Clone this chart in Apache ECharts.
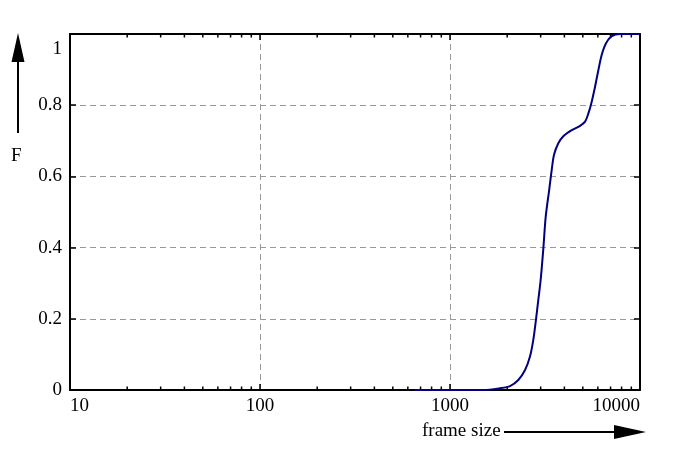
<!DOCTYPE html>
<html>
<head>
<meta charset="utf-8">
<script src="https://cdn.jsdelivr.net/npm/echarts@6/dist/echarts.min.js"></script>
<style>
  html, body { margin: 0; padding: 0; background: #fff; }
  #chart { width: 692px; height: 451px; }
</style>
</head>
<body>
<div id="chart"></div>
<script>
// cumulative distribution of frame sizes
const frameSize = [650, 1000, 1500, 1834, 2070, 2288, 2483, 2636, 2743, 2835, 2916, 3000, 3100, 3190, 3334, 3430, 3525, 3715, 3948, 4373, 4835, 5140, 5350, 5570, 5800, 6040, 6285, 6625, 7100, 7850, 10000];
const cdf = [0, 0, 0, 0.005, 0.011, 0.028, 0.056, 0.094, 0.14, 0.198, 0.253, 0.309, 0.398, 0.487, 0.566, 0.618, 0.660, 0.693, 0.713, 0.730, 0.742, 0.754, 0.777, 0.810, 0.852, 0.899, 0.941, 0.974, 0.994, 1, 1];

// minor ticks of the log axis
const minorTicks = [20, 30, 40, 50, 60, 70, 80, 90, 200, 300, 400, 500, 600, 700, 800, 900,
  2000, 3000, 4000, 5000, 6000, 7000, 8000, 9000];

const FONT = 'Liberation Serif';
const chart = echarts.init(document.getElementById('chart'));

const frameAxis = {
  type: 'log',
  logBase: 10,
  min: 10,
  max: 10000,
  axisLine: { onZero: false, lineStyle: { color: '#000', width: 2 } },
  axisTick: { inside: true, length: 6, lineStyle: { color: '#000', width: 1.5 } },
  minorTick: { show: false }
};

const fAxis = {
  type: 'value',
  min: 0,
  max: 1,
  interval: 0.2,
  axisLine: { show: true, onZero: false, lineStyle: { color: '#000', width: 2 } },
  axisTick: { show: true, inside: true, length: 6, lineStyle: { color: '#000', width: 1.5 } }
};

const option = {
  animation: false,
  grid: { left: 70, right: 52, top: 34, bottom: 61, containLabel: false },
  xAxis: [
    Object.assign({}, frameAxis, {
      position: 'bottom',
      axisLabel: {
        color: '#000', fontFamily: FONT, fontSize: 19, margin: 7,
        alignMinLabel: 'left', alignMaxLabel: 'right',
        formatter: v => String(Math.round(v))
      },
      splitLine: { show: true, lineStyle: { color: '#999', type: [6, 4], width: 1 } }
    }),
    Object.assign({}, frameAxis, {
      position: 'top',
      axisLabel: { show: false },
      splitLine: { show: false }
    })
  ],
  yAxis: [
    Object.assign({}, fAxis, {
      position: 'left',
      axisLabel: {
        color: '#000', fontFamily: FONT, fontSize: 19, margin: 8,
        verticalAlignMaxLabel: 'top',
        formatter: v => v === 1 ? '{top|1}' : String(v),
        rich: { top: { fontFamily: FONT, fontSize: 19, padding: [6, 0, 0, 0] } }
      },
      splitLine: { show: true, lineStyle: { color: '#999', type: [6, 4], width: 1 } }
    }),
    Object.assign({}, fAxis, {
      position: 'right',
      axisLabel: { show: false },
      splitLine: { show: false }
    })
  ],
  series: [{
    type: 'custom',
    xAxisIndex: 0,
    yAxisIndex: 0,
    silent: true,
    data: minorTicks.map(v => [v]),
    renderItem: function (params, api) {
      const v = api.value(0);
      const b = api.coord([v, 0]);
      const t = api.coord([v, 1]);
      const st = { stroke: '#000', lineWidth: 1.5 };
      return {
        type: 'group',
        children: [
          { type: 'line', shape: { x1: b[0], y1: b[1], x2: b[0], y2: b[1] - 3.5 }, style: st },
          { type: 'line', shape: { x1: t[0], y1: t[1], x2: t[0], y2: t[1] + 3.5 }, style: st }
        ]
      };
    }
  }, {
    type: 'line',
    xAxisIndex: 0,
    yAxisIndex: 0,
    data: frameSize.map((x, i) => [x, cdf[i]]),
    showSymbol: false,
    smooth: 0.3,
    lineStyle: { color: '#000080', width: 2 },
    z: 5
  }],
  graphic: [
    // y-axis arrow and label
    { type: 'line', shape: { x1: 18, y1: 133, x2: 18, y2: 56 }, style: { stroke: '#000', lineWidth: 2 } },
    { type: 'polygon', shape: { points: [[18, 33], [11.5, 62], [24.5, 62]] }, style: { fill: '#000' } },
    { type: 'text', left: 11, top: 147, style: { text: 'F', font: '19px "Liberation Serif"', fill: '#000' } },
    // x-axis arrow and label
    { type: 'text', left: 422, top: 422, style: { text: 'frame size', font: '19px "Liberation Serif"', fill: '#000' } },
    { type: 'line', shape: { x1: 504, y1: 432, x2: 620, y2: 432 }, style: { stroke: '#000', lineWidth: 2 } },
    { type: 'polygon', shape: { points: [[646, 432], [614, 425], [614, 439]] }, style: { fill: '#000' } }
  ]
};

chart.setOption(option);
</script>
</body>
</html>
